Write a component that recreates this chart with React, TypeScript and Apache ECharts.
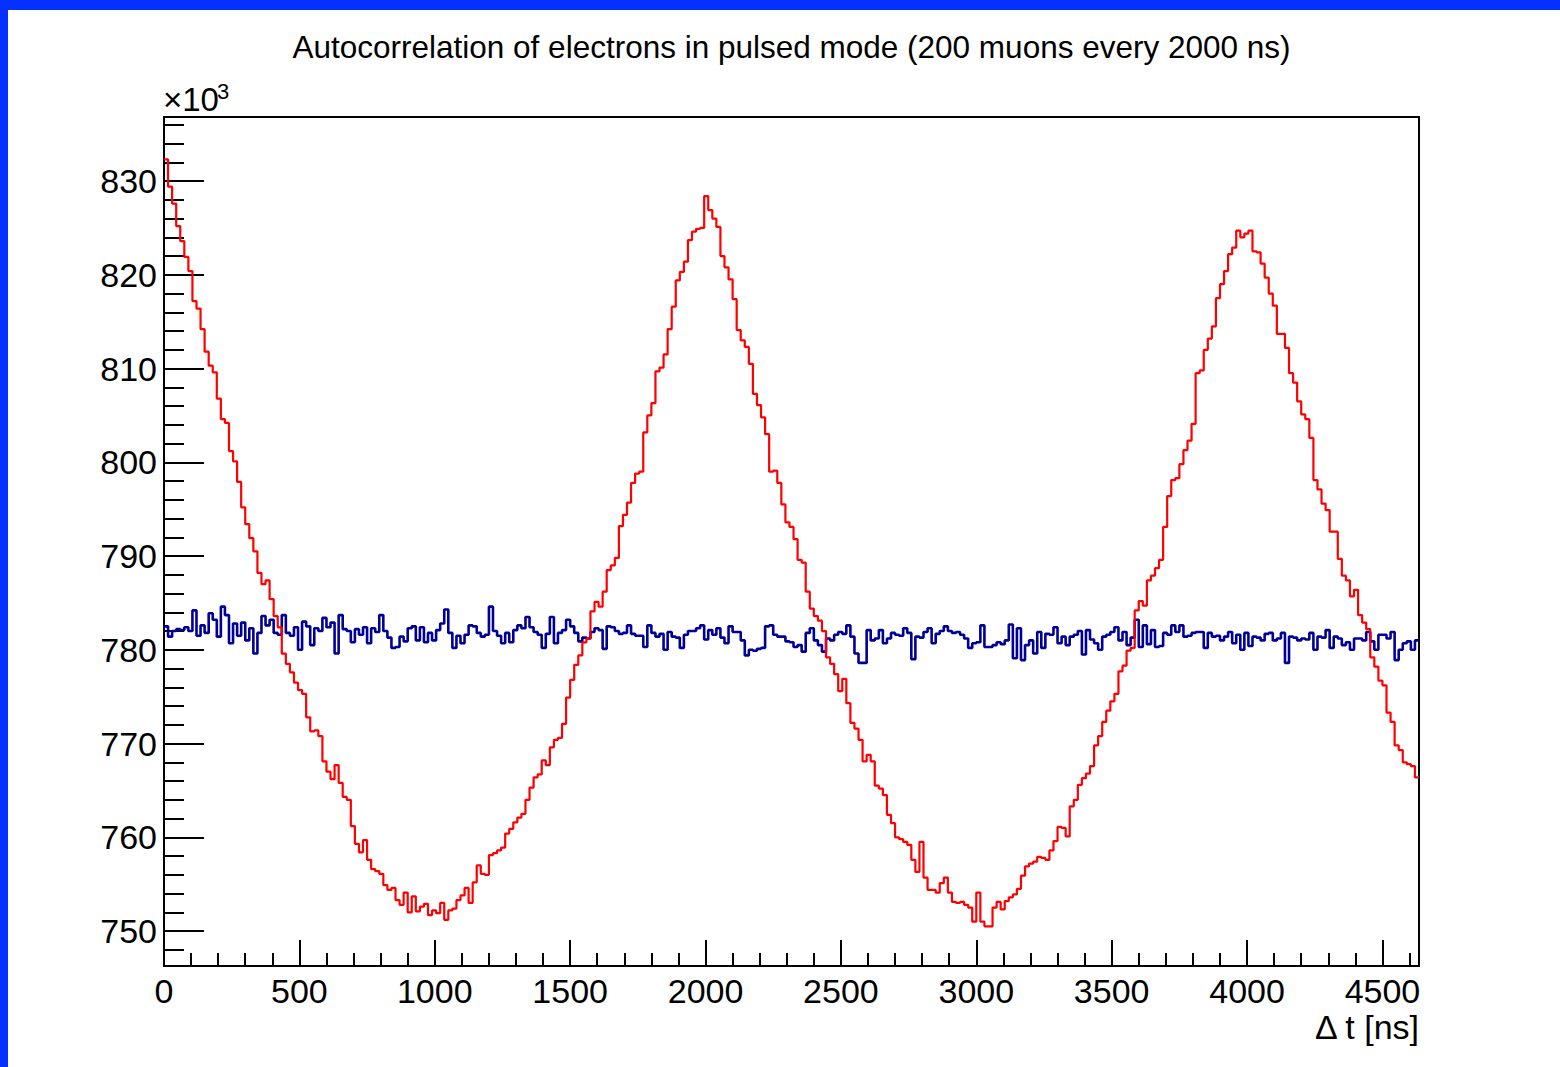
import React, { useEffect, useRef } from "react";
import * as echarts from "echarts";

// Histogram binning (ns)
const BIN_WIDTH = 15;
const X_MIN = 0;
const X_MAX = 4635;
const Y_MIN = 746.27;
const Y_MAX = 836.83;

const TITLE = "Autocorrelation of electrons in pulsed mode (200 muons every 2000 ns)";
const X_TITLE = "\u0394 t [ns]";
const Y_MULT = "\u00d710";
const Y_MULT_EXP = "3";

// Red histogram (pulsed mode), bin contents in units of 10^3
const RED_VALUES = [
  832.3, 829.4, 827.6, 825.2, 823.6, 821.9, 820.4, 817.2, 816.4, 814.2,
  811.8, 810.3, 809.6, 806.8, 804.6, 804.2, 801.2, 800.1, 797.9, 795.2,
  793.4, 791.9, 790.5, 788.2, 787.0, 787.4, 785.4, 783.6, 782.4, 779.6,
  778.5, 777.6, 776.5, 775.7, 775.3, 772.8, 771.3, 771.4, 770.8, 768.1,
  767.0, 766.2, 767.7, 765.8, 764.3, 764.0, 761.2, 759.3, 758.4, 759.7,
  757.6, 756.6, 756.4, 756.1, 754.9, 754.4, 754.6, 753.3, 752.8, 754.1,
  752.0, 753.7, 752.1, 752.6, 752.9, 751.7, 752.2, 751.9, 753.0, 751.2,
  752.2, 752.4, 753.3, 753.8, 754.6, 753.0, 755.2, 757.0, 756.1, 756.0,
  758.1, 758.3, 758.6, 758.9, 760.4, 760.9, 761.6, 762.1, 762.5, 764.0,
  765.3, 766.4, 766.7, 768.2, 767.7, 769.6, 770.4, 770.6, 772.1, 774.9,
  776.8, 778.4, 779.4, 780.8, 781.2, 784.1, 785.1, 784.6, 786.2, 788.5,
  789.0, 789.8, 793.2, 794.4, 795.7, 797.8, 798.8, 799.0, 803.2, 805.0,
  806.3, 809.7, 810.1, 811.5, 814.2, 816.6, 819.4, 820.3, 821.4, 823.7,
  824.6, 824.9, 825.0, 828.4, 826.9, 826.0, 825.1, 822.0, 820.8, 819.5,
  817.4, 814.1, 813.0, 812.3, 810.5, 807.3, 806.1, 804.8, 803.0, 799.0,
  799.1, 797.8, 795.5, 793.6, 793.1, 791.8, 789.6, 789.3, 786.2, 784.4,
  783.6, 783.1, 782.0, 779.2, 778.5, 777.4, 775.6, 776.9, 774.3, 772.2,
  771.6, 770.4, 768.1, 768.8, 768.1, 765.5, 765.2, 764.5, 762.4, 761.5,
  760.0, 759.8, 759.5, 759.2, 757.6, 756.3, 759.5, 755.7, 754.4, 754.4,
  754.1, 755.1, 755.7, 754.1, 753.1, 753.0, 753.1, 752.8, 752.5, 751.0,
  754.1, 751.0, 750.5, 750.5, 752.5, 753.1, 752.3, 753.2, 753.6, 753.9,
  754.5, 755.9, 756.9, 757.2, 757.4, 757.9, 757.8, 757.6, 758.6, 759.6,
  761.1, 761.0, 760.1, 763.3, 764.0, 765.6, 766.3, 766.8, 767.6, 769.8,
  770.8, 772.3, 773.5, 774.5, 775.3, 777.7, 778.3, 779.9, 780.2, 784.2,
  785.2, 784.7, 787.4, 787.9, 788.7, 789.6, 793.1, 796.4, 798.1, 798.3,
  799.8, 801.3, 802.3, 804.1, 809.5, 809.8, 812.0, 813.2, 814.5, 817.5,
  819.0, 820.4, 822.2, 822.9, 824.7, 824.0, 824.4, 824.7, 822.5, 822.4,
  821.2, 819.7, 818.0, 816.7, 813.7, 813.7, 812.2, 809.5, 808.5, 806.5,
  805.1, 804.6, 802.6, 798.1, 797.1, 795.6, 794.9, 792.6, 792.6, 789.7,
  787.9, 787.4, 785.7, 786.4, 783.7, 782.9, 782.2, 779.2, 778.2, 776.7,
  776.2, 773.3, 772.3, 769.8, 769.3, 768.0, 767.8, 767.6, 766.4,
];

// Blue histogram (reference), bin contents in units of 10^3
const BLUE_VALUES = [
  782.5, 781.4, 782.0, 782.2, 782.1, 782.4, 782.0, 784.2, 781.5, 782.6,
  781.8, 783.9, 783.2, 781.4, 784.6, 783.7, 780.7, 782.8, 781.5, 782.9,
  781.0, 782.3, 779.6, 781.8, 783.6, 782.6, 783.2, 781.8, 781.6, 783.7,
  781.8, 781.5, 782.4, 780.0, 783.0, 782.5, 780.5, 782.3, 782.0, 783.4,
  782.4, 782.9, 779.6, 783.7, 782.2, 782.0, 780.8, 782.2, 781.6, 782.4,
  780.7, 782.3, 781.9, 783.7, 782.0, 781.3, 780.2, 780.3, 781.4, 780.9,
  782.3, 782.5, 781.0, 782.4, 780.8, 781.8, 781.0, 782.1, 782.8, 784.3,
  781.8, 780.2, 781.5, 780.7, 781.6, 782.6, 782.5, 781.8, 781.4, 781.6,
  784.6, 782.0, 781.5, 780.7, 781.8, 780.8, 782.1, 782.6, 782.3, 783.5,
  782.4, 781.9, 781.6, 780.2, 781.7, 783.5, 780.7, 781.8, 782.1, 783.2,
  782.5, 781.8, 780.9, 781.3, 781.2, 781.9, 782.3, 782.1, 780.1, 782.5,
  782.4, 782.0, 781.7, 781.8, 782.6, 781.7, 781.5, 781.5, 780.3, 782.6,
  781.8, 781.4, 781.7, 780.0, 781.9, 781.4, 781.3, 780.2, 781.6, 782.0,
  782.0, 782.3, 782.6, 781.1, 782.1, 781.6, 782.3, 781.3, 780.7, 782.5,
  781.9, 781.9, 781.0, 779.4, 780.0, 779.9, 780.1, 780.2, 782.5, 782.6,
  781.6, 781.4, 781.4, 780.9, 780.8, 780.3, 780.5, 779.8, 781.8, 782.3,
  781.0, 780.5, 779.8, 781.2, 781.0, 781.6, 781.9, 781.7, 782.6, 781.4,
  779.6, 778.6, 778.6, 782.1, 781.0, 781.2, 782.1, 780.7, 781.2, 781.8,
  781.6, 781.5, 782.3, 781.8, 779.0, 781.4, 781.3, 781.9, 782.3, 780.7,
  781.7, 782.0, 782.5, 782.0, 781.8, 781.9, 781.6, 781.2, 780.2, 780.7,
  780.8, 782.6, 780.3, 780.3, 780.5, 780.8, 780.6, 781.0, 782.7, 779.1,
  782.3, 778.9, 780.5, 781.0, 779.6, 781.9, 780.2, 781.7, 781.6, 782.4,
  780.7, 781.4, 780.5, 781.4, 781.6, 782.0, 779.5, 782.1, 781.1, 780.7,
  780.0, 781.4, 781.6, 781.9, 782.4, 781.0, 781.9, 780.5, 781.3, 783.2,
  780.3, 782.6, 780.6, 782.1, 780.3, 780.4, 781.8, 781.6, 782.6, 781.9,
  782.6, 781.4, 781.5, 781.8, 781.9, 781.9, 780.2, 781.8, 781.4, 781.5,
  781.0, 781.4, 781.9, 780.7, 781.6, 780.0, 781.8, 780.4, 781.4, 781.3,
  781.0, 781.7, 781.8, 781.0, 781.2, 781.8, 778.6, 781.4, 781.3, 781.0,
  781.2, 781.1, 781.8, 780.0, 781.4, 781.3, 782.1, 780.2, 781.4, 781.2,
  780.5, 780.8, 780.0, 781.2, 781.2, 781.0, 781.9, 780.9, 780.0, 781.6,
  781.6, 781.2, 781.9, 778.9, 780.0, 780.7, 780.9, 780.0, 781.0,
];

const RED_COLOR = "#ff0000";
const BLUE_COLOR = "#000099";
const FONT = "Liberation Sans, Arial, Helvetica, sans-serif";

function toSteps(values: number[]): number[][] {
  const pts = values.map((v, i) => [X_MIN + i * BIN_WIDTH, v]);
  pts.push([X_MIN + values.length * BIN_WIDTH, values[values.length - 1]]);
  return pts;
}

export default function App() {
  const ref = useRef<HTMLDivElement>(null);

  useEffect(() => {
    if (!ref.current) return;
    const chart = echarts.init(ref.current, undefined, { renderer: "svg" });
    const axisCommon = {
      type: "value" as const,
      axisLine: { show: true, onZero: false, lineStyle: { color: "#000", width: 2 } },
      splitLine: { show: false },
      minorSplitLine: { show: false },
    };
    chart.setOption({
      animation: false,
      backgroundColor: "#ffffff",
      grid: {
        left: 156,
        top: 107,
        width: 1255,
        height: 849,
        show: true,
        borderColor: "#000",
        borderWidth: 2,
        backgroundColor: "transparent",
        containLabel: false,
      },
      xAxis: {
        ...axisCommon,
        min: X_MIN,
        max: X_MAX,
        interval: 500,
        axisTick: { show: true, inside: true, length: 26, lineStyle: { color: "#000", width: 2 } },
        minorTick: { show: true, splitNumber: 5, length: 13, lineStyle: { color: "#000", width: 2 } },
        axisLabel: {
          show: true,
          margin: 8,
          fontSize: 34,
          color: "#000",
          fontFamily: FONT,
          showMaxLabel: false,
          formatter: (v: number) => String(v),
        },
      },
      yAxis: {
        ...axisCommon,
        min: Y_MIN,
        max: Y_MAX,
        splitNumber: 9,
        axisTick: { show: true, inside: true, length: 40, lineStyle: { color: "#000", width: 2 } },
        minorTick: { show: true, splitNumber: 5, length: 20, lineStyle: { color: "#000", width: 2 } },
        axisLabel: {
          show: true,
          margin: 7,
          fontSize: 34,
          color: "#000",
          fontFamily: FONT,
          showMinLabel: false,
          showMaxLabel: false,
          formatter: (v: number) => String(Math.round(v)),
        },
      },
      series: [
        {
          name: "blue",
          type: "line",
          step: "end",
          data: toSteps(BLUE_VALUES),
          symbol: "none",
          showSymbol: false,
          clip: true,
          silent: true,
          lineStyle: { color: BLUE_COLOR, width: 2.6 },
          z: 2,
        },
        {
          name: "red",
          type: "line",
          step: "end",
          data: toSteps(RED_VALUES),
          symbol: "none",
          showSymbol: false,
          clip: true,
          silent: true,
          lineStyle: { color: RED_COLOR, width: 2.2 },
          z: 3,
        },
      ],
      graphic: [
        {
          type: "text",
          x: 783.5,
          y: 37,
          silent: true,
          style: {
            text: TITLE,
            fontSize: 31.5,
            fontFamily: FONT,
            fill: "#000",
            align: "center",
            verticalAlign: "middle",
          },
        },
        {
          type: "text",
          x: 1411,
          y: 1017,
          silent: true,
          style: {
            text: X_TITLE,
            fontSize: 34,
            fontFamily: FONT,
            fill: "#000",
            align: "right",
            verticalAlign: "middle",
          },
        },
        {
          type: "text",
          x: 155,
          y: 89,
          silent: true,
          style: {
            text: Y_MULT,
            fontSize: 33,
            fontFamily: FONT,
            fill: "#000",
            align: "left",
            verticalAlign: "middle",
          },
        },
        {
          type: "text",
          x: 209,
          y: 81,
          silent: true,
          style: {
            text: Y_MULT_EXP,
            fontSize: 22,
            fontFamily: FONT,
            fill: "#000",
            align: "left",
            verticalAlign: "middle",
          },
        },
      ],
    });
    return () => chart.dispose();
  }, []);

  return (
    <div
      style={{
        position: "fixed",
        left: 0,
        top: 0,
        width: 1560,
        height: 1067,
        background: "#0530ff",
        overflow: "hidden",
      }}
    >
      <div
        ref={ref}
        style={{
          position: "absolute",
          left: 8,
          top: 10,
          width: 1552,
          height: 1057,
          background: "#ffffff",
        }}
      />
    </div>
  );
}
